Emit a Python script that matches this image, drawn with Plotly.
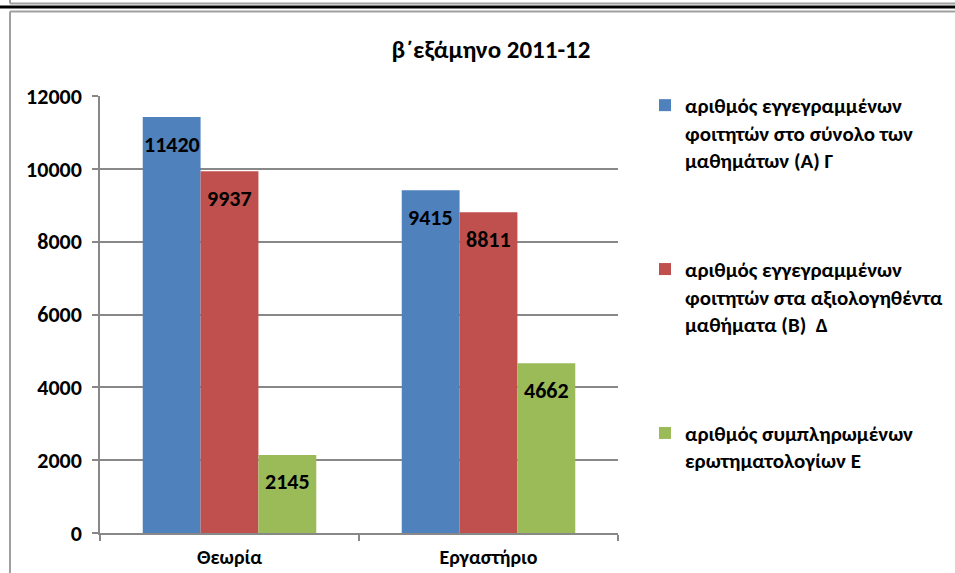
import plotly.graph_objects as go

categories = ["Θεωρία", "Εργαστήριο"]
series_names = [
    "αριθμός εγγεγραμμένων<br>φοιτητών στο σύνολο των<br>μαθημάτων (Α) Γ",
    "αριθμός εγγεγραμμένων<br>φοιτητών στα αξιολογηθέντα<br>μαθήματα (Β)  Δ",
    "αριθμός συμπληρωμένων<br>ερωτηματολογίων Ε",
]
values_A = [11420, 9415]
values_B = [9937, 8811]
values_E = [2145, 4662]
colors = ["#4F81BD", "#C0504D", "#9BBB59"]
y_ticks = [0, 2000, 4000, 6000, 8000, 10000, 12000]

FONT = "Carlito, Calibri, 'Noto Sans', sans-serif"
W, H = 955, 573
L, R, T, B = 100, 618, 96, 533
BARGAP = 0.33

fig = go.Figure()
all_vals = [values_A, values_B, values_E]
for i, (name, vals) in enumerate(zip(series_names, all_vals)):
    fig.add_trace(go.Bar(
        x=categories, y=vals, name="<b>" + name.replace("<br>", "</b><br><b>") + "</b>",
        marker=dict(color=colors[i], line=dict(width=0)),
        legendgroup=f"g{i}",
        hoverinfo="x+y",
    ))

# data labels ("inside end") as annotations on the axes
cat_px = (R - L) / len(categories)
bar_px = cat_px * (1 - BARGAP) / len(all_vals)
annotations = []
for i, vals in enumerate(all_vals):
    for c, v in zip(categories, vals):
        annotations.append(dict(
            x=c, y=v, xref="x", yref="y", text=f"<b>{v}</b>", showarrow=False,
            xshift=(i - 1) * bar_px, yshift=-27, yanchor="middle", xanchor="center",
            font=dict(size=22, family=FONT, color="black"),
        ))

def px(x):
    return (x - L) / (R - L)

def py(y):
    return (B - y) / (B - T)

gray = "#A0A0A0"
shapes = [
    dict(type="line", xref="paper", yref="paper", x0=px(0), x1=px(960), y0=py(7), y1=py(7),
         line=dict(color="black", width=3)),
    dict(type="line", xref="paper", yref="paper", x0=px(10), x1=px(960), y0=py(3.5), y1=py(3.5),
         line=dict(color=gray, width=2)),
    dict(type="line", xref="paper", yref="paper", x0=px(10), x1=px(10), y0=py(-5), y1=py(3.5),
         line=dict(color=gray, width=2)),
    dict(type="line", xref="paper", yref="paper", x0=px(10), x1=px(960), y0=py(11.5), y1=py(11.5),
         line=dict(color=gray, width=2)),
    dict(type="line", xref="paper", yref="paper", x0=px(10), x1=px(10), y0=py(11.5), y1=py(580),
         line=dict(color=gray, width=2)),
]

fig.update_layout(
    width=W, height=H,
    margin=dict(l=L, r=W - R, t=T, b=H - B, autoexpand=False),
    paper_bgcolor="white", plot_bgcolor="white",
    barmode="group", bargap=BARGAP, bargroupgap=0,
    font=dict(family=FONT, color="black", size=21),
    title=dict(text="<b>β΄εξάμηνο 2011-12</b>", x=491 / W, xref="container", xanchor="center",
               y=1 - 49 / H, yref="container", yanchor="middle",
               font=dict(size=25, family=FONT, color="black")),
    legend=dict(x=px(645), y=py(85), xanchor="left", yanchor="top",
                font=dict(size=21, family=FONT, color="black"),
                tracegroupgap=79, itemwidth=30, traceorder="grouped", valign="top",
                maxheight=560, bgcolor="rgba(0,0,0,0)"),
    shapes=shapes,
    annotations=annotations,
    showlegend=True,
)
fig.update_yaxes(range=[0, 12000], tickvals=y_ticks, ticktext=[f"<b>{v}</b>" for v in y_ticks],
                 showgrid=True, gridcolor="#888888", gridwidth=1.5,
                 showline=True, linecolor="#888888", linewidth=1.5,
                 ticks="outside", ticklen=6, tickcolor="#888888", tickwidth=1.5,
                 ticklabelstandoff=6, automargin=False,
                 tickfont=dict(size=22, family=FONT), zeroline=False, fixedrange=True)
fig.update_xaxes(tickvals=categories, ticktext=[f"<b>{c}</b>" for c in categories],
                 showline=True, linecolor="#888888", linewidth=1.5,
                 ticks="outside", ticklen=6, tickcolor="#888888", tickwidth=1.5,
                 ticklabelstandoff=5, automargin=False,
                 tickson="boundaries", tickfont=dict(size=20, family=FONT), showgrid=False,
                 fixedrange=True)

fig.write_html("out.html", config={"displayModeBar": False},
               post_script="document.body.style.margin='0';")
